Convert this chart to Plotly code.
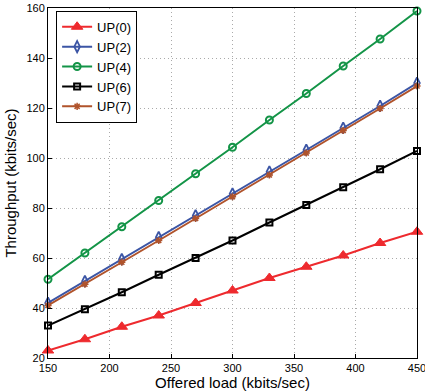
import plotly.graph_objects as go

offered_load = [150, 180, 210, 240, 270, 300, 330, 360, 390, 420, 450]
up0 = [23, 27.5, 32.5, 37, 42, 47, 52, 56.5, 61, 66, 70.5]
up2 = [42, 50.7, 59.5, 68.3, 77, 85.7, 94.5, 103.2, 112, 120.8, 130]
up4 = [51.5, 62, 72.5, 83, 93.7, 104.3, 115.2, 125.8, 136.8, 147.6, 158.8]
up6 = [33, 39.5, 46.3, 53.3, 60, 67, 74.2, 81.2, 88.3, 95.5, 102.8]
up7 = [41, 49.5, 58.3, 67, 75.8, 84.5, 93.2, 102, 111, 119.8, 128.8]

series = [
    ("UP(0)", up0, "#EE2A2E", "triangle-up", 10, 1),
    ("UP(2)", up2, "#3B55A5", "diamond-tall-open", 8, 1.8),
    ("UP(4)", up4, "#139447", "circle-open", 7, 2),
    ("UP(6)", up6, "#000000", "square-open", 6, 2),
    ("UP(7)", up7, "#B0532B", "asterisk-open", 6, 1.5),
]

fig = go.Figure()
for name, ys, color, sym, sz, lw in series:
    fig.add_trace(go.Scatter(
        x=offered_load, y=ys, name=name, mode="lines+markers",
        line=dict(color=color, width=2),
        marker=dict(symbol=sym, size=sz, color=color,
                    line=dict(color=color, width=lw)),
        cliponaxis=False,
    ))

axis_common = dict(
    showline=True, linecolor="#000000", linewidth=1, mirror=True,
    ticks="inside", ticklen=4, tickcolor="#000000",
    showgrid=True, gridcolor="#AAAAAA", griddash="1px,3px", gridwidth=1,
    zeroline=False, ticklabeloverflow="allow", automargin=False,
    tickfont=dict(family="Liberation Sans, Arial", size=11, color="#000000"),
)

fig.update_layout(
    width=425, height=391,
    margin=dict(l=48, r=8, t=8, b=33),
    paper_bgcolor="white", plot_bgcolor="white",
    font=dict(family="Liberation Sans, Arial", color="#000000"),
    xaxis=dict(range=[150, 450], dtick=50, **axis_common,
               title=dict(text="Offered load (kbits/sec)", font=dict(size=15), standoff=2)),
    yaxis=dict(range=[20, 160], dtick=20, **axis_common,
               title=dict(text="Throughput (kbits/sec)", font=dict(size=15), standoff=6)),
    legend=dict(x=0.022, y=0.992, xanchor="left", yanchor="top",
                bgcolor="white", bordercolor="#000000", borderwidth=1,
                font=dict(size=13), tracegroupgap=0, itemwidth=30),
    showlegend=True,
)

fig.write_html("out.html", config={"displayModeBar": False},
               post_script="document.body.style.margin='0';")
